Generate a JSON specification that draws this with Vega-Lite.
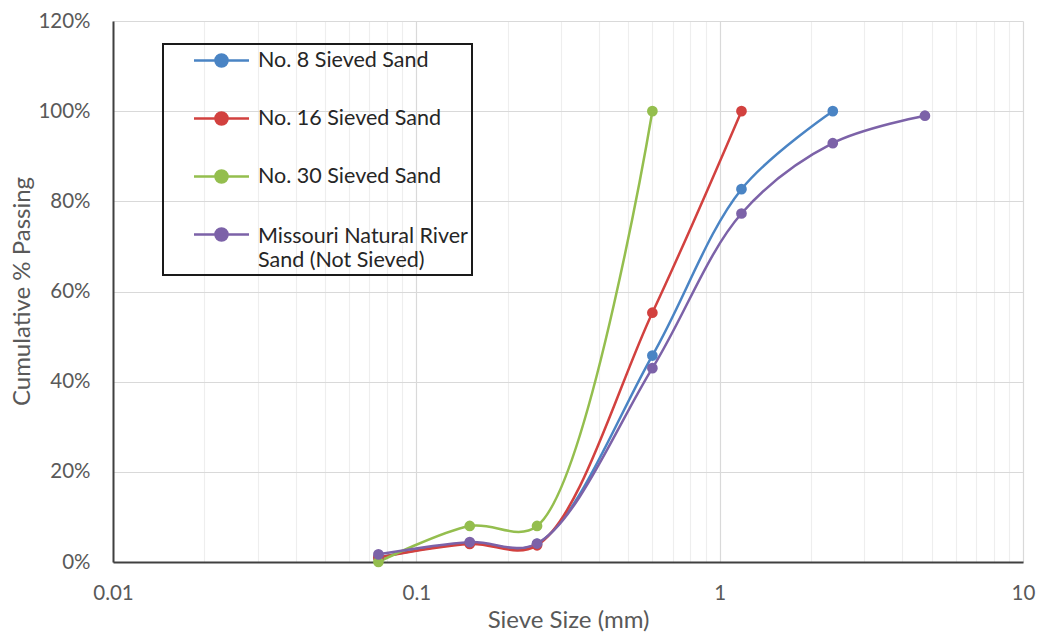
{
  "$schema": "https://vega.github.io/schema/vega-lite/v6.json",
  "width": 910,
  "height": 541,
  "autosize": "none",
  "padding": {"left": 113, "top": 21, "right": 21, "bottom": 75},
  "background": "#ffffff",
  "config": {
    "view": {"stroke": null},
    "font": "Lato",
    "axis": {"labelFont": "Lato", "titleFont": "Lato", "labelColor": "#595959", "titleColor": "#595959", "labelFontSize": 20.5, "titleFontSize": 24, "titleFontWeight": "normal", "ticks": false}
  },
  "data": {"values": [
    {"series": "No. 8 Sieved Sand", "size": 0.075, "pct": 0.01},
    {"series": "No. 8 Sieved Sand", "size": 0.15, "pct": 0.042},
    {"series": "No. 8 Sieved Sand", "size": 0.25, "pct": 0.04},
    {"series": "No. 8 Sieved Sand", "size": 0.6, "pct": 0.458},
    {"series": "No. 8 Sieved Sand", "size": 1.18, "pct": 0.827},
    {"series": "No. 8 Sieved Sand", "size": 2.36, "pct": 1.0},
    {"series": "No. 16 Sieved Sand", "size": 0.075, "pct": 0.01},
    {"series": "No. 16 Sieved Sand", "size": 0.15, "pct": 0.04},
    {"series": "No. 16 Sieved Sand", "size": 0.25, "pct": 0.037},
    {"series": "No. 16 Sieved Sand", "size": 0.6, "pct": 0.553},
    {"series": "No. 16 Sieved Sand", "size": 1.18, "pct": 1.0},
    {"series": "No. 30 Sieved Sand", "size": 0.075, "pct": 0.0},
    {"series": "No. 30 Sieved Sand", "size": 0.15, "pct": 0.08},
    {"series": "No. 30 Sieved Sand", "size": 0.25, "pct": 0.08},
    {"series": "No. 30 Sieved Sand", "size": 0.6, "pct": 1.0},
    {"series": "Missouri Natural River Sand (Not Sieved)", "size": 0.075, "pct": 0.017},
    {"series": "Missouri Natural River Sand (Not Sieved)", "size": 0.15, "pct": 0.044},
    {"series": "Missouri Natural River Sand (Not Sieved)", "size": 0.25, "pct": 0.041},
    {"series": "Missouri Natural River Sand (Not Sieved)", "size": 0.6, "pct": 0.43},
    {"series": "Missouri Natural River Sand (Not Sieved)", "size": 1.18, "pct": 0.773},
    {"series": "Missouri Natural River Sand (Not Sieved)", "size": 2.36, "pct": 0.929},
    {"series": "Missouri Natural River Sand (Not Sieved)", "size": 4.75, "pct": 0.99}
  ]},
  "mark": {"type": "line", "interpolate": "catmull-rom", "strokeWidth": 2.5, "point": {"filled": true, "size": 115, "opacity": 1}},
  "encoding": {
    "x": {
      "field": "size", "type": "quantitative",
      "scale": {"type": "log", "domain": [0.01, 10], "nice": false},
      "axis": {
        "title": "Sieve Size (mm)",
        "values": [0.01,0.02,0.03,0.04,0.05,0.06,0.07,0.08,0.09,0.1,0.2,0.3,0.4,0.5,0.6,0.7,0.8,0.9,1,2,3,4,5,6,7,8,9,10],
        "labelExpr": "indexof([0.01,0.1,1,10], datum.value) >= 0 ? datum.label : ''",
        "format": "~g",
        "labelOverlap": false,
        "labelBound": false,
        "labelFlush": false,
        "labelBaseline": "middle",
        "labelPadding": 31,
        "grid": true,
        "gridColor": {"condition": {"test": "indexof([0.01,0.1,1,10], datum.value) >= 0", "value": "#d9d9d9"}, "value": "#eeeeee"},
        "gridWidth": 1.2,
        "domainColor": "#404040",
        "domainWidth": 2,
        "titleX": 455,
        "titleY": 58,
        "titleBaseline": "middle",
        "titleAlign": "center"
      }
    },
    "y": {
      "field": "pct", "type": "quantitative",
      "scale": {"domain": [0, 1.2], "nice": false},
      "axis": {
        "title": "Cumulative % Passing",
        "values": [0, 0.2, 0.4, 0.6, 0.8, 1.0, 1.2],
        "format": ".0%",
        "labelPadding": 23,
        "grid": true,
        "gridColor": "#d9d9d9",
        "gridWidth": 1.2,
        "domainColor": "#404040",
        "domainWidth": 2,
        "titleX": -91,
        "titleY": 270,
        "titleAngle": -90,
        "titleBaseline": "middle",
        "titleAlign": "center"
      }
    },
    "color": {
      "field": "series", "type": "nominal",
      "scale": {
        "domain": ["No. 8 Sieved Sand", "No. 16 Sieved Sand", "No. 30 Sieved Sand", "Missouri Natural River Sand (Not Sieved)"],
        "range": ["#4A84C4", "#D2413F", "#94BE4E", "#7C62A8"]
      },
      "legend": {
        "title": null,
        "orient": "none",
        "legendX": 50,
        "legendY": 23,
        "padding": 4,
        "symbolOffset": 42,
        "labelOffset": 24,
        "rowPadding": 34,
        "symbolType": "M-2.5,0L2.5,0M-0.55,0A0.55,0.55,0,1,1,0.55,0A0.55,0.55,0,1,1,-0.55,0Z",
        "symbolSize": 484,
        "symbolStrokeWidth": 2.5,
        "labelFont": "Lato",
        "labelFontSize": 21.5,
        "labelColor": "#262626",
        "labelLimit": 400,
        "labelExpr": "datum.value == 'Missouri Natural River Sand (Not Sieved)' ? ['Missouri Natural River', 'Sand (Not Sieved)'] : datum.value",
        "encode": {
          "symbols": {"update": {"fill": {"scale": "color", "field": "value"}, "stroke": {"scale": "color", "field": "value"}, "opacity": {"value": 1}}},
          "labels": {"update": {"lineHeight": {"value": 24}, "dy": {"signal": "datum.value == 'Missouri Natural River Sand (Not Sieved)' ? 2 : 0"}}},
          "legend": {"update": {"stroke": {"value": "#1a1a1a"}, "strokeWidth": {"value": 2}}}
        }
      }
    }
  }
}
